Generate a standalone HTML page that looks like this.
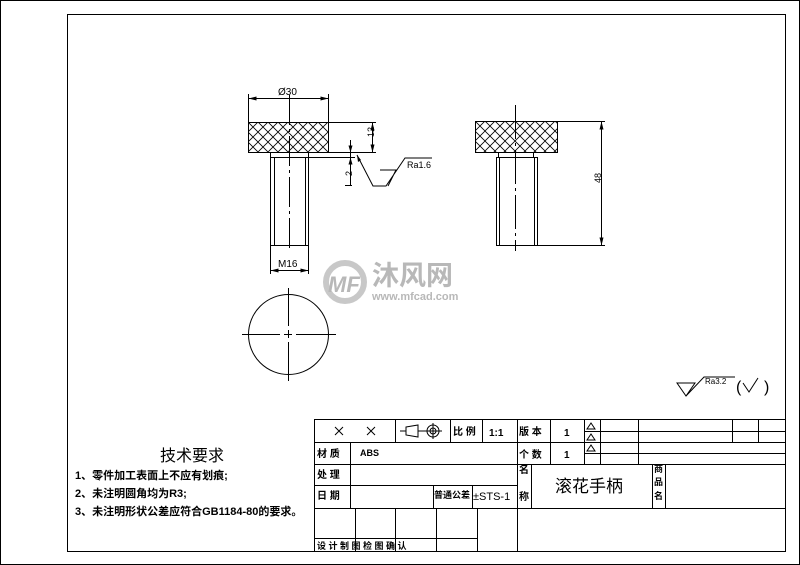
<!DOCTYPE html>
<html><head><meta charset="utf-8"><style>
html,body{margin:0;padding:0;background:#fff}
svg{display:block}
text{font-family:"Liberation Sans","Noto Sans CJK SC",sans-serif;fill:#000}
text.wm{fill:#b8b8b8}
</style></head><body>
<svg width="800" height="565" viewBox="0 0 800 565" xmlns="http://www.w3.org/2000/svg">
<defs>
<pattern id="kn" width="10" height="10" patternUnits="userSpaceOnUse" x="248" y="122">
<path d="M0 0L10 10M10 0L0 10" stroke="#000" stroke-width="0.8"/>
</pattern>
<pattern id="kn2" width="10" height="10" patternUnits="userSpaceOnUse" x="475" y="121">
<path d="M0 0L10 10M10 0L0 10" stroke="#000" stroke-width="0.8"/>
</pattern>
</defs>
<rect x="0.5" y="0.5" width="799" height="564" fill="none" stroke="#000"/>
<rect x="67.5" y="14.5" width="718" height="537" fill="none" stroke="#000"/>

<!-- watermark -->
<circle cx="345" cy="282" r="19" fill="none" stroke="#c8c8c8" stroke-width="6"/>
<text class="wm" x="328" y="292" font-size="22" font-weight="bold" font-style="italic">MF</text>
<text class="wm" x="372" y="285" font-size="27" font-weight="bold" style="font-family:'Noto Sans CJK SC',sans-serif">沐风网</text>
<text class="wm" x="372" y="300" font-size="11" font-weight="bold">www.mfcad.com</text>

<g stroke="#000" stroke-width="1" fill="none">
<rect x="248.5" y="122.5" width="80" height="30" fill="url(#kn)"/>
<path d="M270.5 152.5V157.5M308.5 152.5V157.5"/>
<rect x="270.5" y="157.5" width="38" height="88"/>
<path d="M274.5 157.5V245.5M305.5 157.5V245.5"/>
<path d="M289.5 95V250" stroke-dasharray="30,4,3,4"/>
<path d="M248.5 94V122M328.5 94V122M248.5 98.5H328.5"/>
<path d="M270.5 245V274M308.5 245V274M270.5 270.5H308.5"/>
<path d="M329 122.5H376M329 152.5H376M372.5 122.5V152.5"/>
<path d="M308 157.5H355M350.5 140V185M345 185.5H352"/>
<path d="M357 155L373 186H386L405 158H432M380 170H396L388 186"/>
<circle cx="288.5" cy="334.5" r="40"/>
<path d="M242 334.5H280M284 334.5H292M296 334.5H336M288.5 288V326M288.5 330V338M288.5 342V381"/>
<rect x="475.5" y="121.5" width="82" height="31" fill="url(#kn2)"/>
<path d="M498.5 152.5V157.5M533.5 152.5V157.5"/>
<rect x="496.5" y="157.5" width="41" height="88"/>
<path d="M499.5 157.5V245.5M534.5 157.5V245.5"/>
<path d="M515.5 105V251" stroke-dasharray="34,4,3,4"/>
<path d="M557 121.5H605M537 245.5H605M601.5 121.5V245.5"/>
<path d="M677 383H695L686 396ZM686 396L704 377H735"/>
<path d="M743 383L749 392L758 378"/>
</g>
<g fill="#000">
<path d="M248.5 98.5l8-2v4zM328.5 98.5l-8-2v4z"/>
<path d="M270.5 270.5l8-2v4zM308.5 270.5l-8-2v4z"/>
<path d="M372.5 122.5l-2 8h4zM372.5 152.5l-2-8h4z"/>
<path d="M350.5 152.5l-2-7h4zM350.5 157.5l-2 7h4z"/>
<path d="M357 155l1 7 3-2z"/>
<path d="M601.5 121.5l-2 8h4zM601.5 245.5l-2-8h4z"/>
</g>
<text x="278" y="95" font-size="10">Ø30</text>
<text x="278" y="267" font-size="10">M16</text>
<text x="368" y="143" font-size="9" transform="rotate(-90 368 137)">12</text>
<text x="348" y="180" font-size="9" transform="rotate(-90 348 176)">2</text>
<text x="407" y="168" font-size="9">Ra1.6</text>
<text x="597" y="187" font-size="9" transform="rotate(-90 597 183)">48</text>
<text x="705" y="384" font-size="8">Ra3.2</text>
<text x="736" y="392" font-size="16">(</text>
<text x="764" y="392" font-size="16">)</text>

<g font-family="Noto Sans CJK SC" font-weight="bold">
<text x="160" y="461" font-size="16" font-weight="normal">技术要求</text>
<text x="75" y="479" font-size="11">1、零件加工表面上不应有划痕;</text>
<text x="75" y="497" font-size="11">2、未注明圆角均为R3;</text>
<text x="75" y="515" font-size="11">3、未注明形状公差应符合GB1184-80的要求。</text>
</g>

<g stroke="#000" stroke-width="1" fill="none">
<rect x="314.5" y="419.5" width="471" height="132"/>
<path d="M314.5 442.5H600.5M314.5 464.5H785.5M314.5 485.5H517.5M314.5 508.5H785.5M314.5 538.5H477.5"/>
<path d="M584.5 431.5H785.5M584.5 453.5H785.5M600.5 442.5H785.5"/>
<path d="M395.5 419.5V442.5M450.5 419.5V442.5M482.5 419.5V442.5M517.5 419.5V551.5M550.5 419.5V464.5M584.5 419.5V464.5M600.5 419.5V464.5M638.5 419.5V464.5M732.5 419.5V442.5M758.5 419.5V442.5"/>
<path d="M350.5 442.5V508.5M433.5 485.5V508.5M472.5 485.5V508.5M531.5 464.5V508.5M652.5 464.5V508.5M665.5 464.5V508.5"/>
<path d="M355.5 508.5V551.5M395.5 508.5V551.5M436.5 508.5V551.5M477.5 508.5V551.5"/>
<path d="M335 427L343 435M343 427L335 435M367 427L375 435M375 427L367 435"/>
<path d="M400 431H406M406 427L418 425V437L406 435ZM418 431H442"/>
<circle cx="433" cy="431" r="6"/><circle cx="433" cy="431" r="3"/>
<path d="M433 423V439"/>
<path d="M587 429h8l-4-6zM587 440h8l-4-6zM587 451h8l-4-6z"/>
</g>
<g font-family="Noto Sans CJK SC" font-size="10" font-weight="bold">
<text x="453" y="435">比 例</text>
<text x="489" y="436" font-family="Liberation Sans">1:1</text>
<text x="519" y="435">版 本</text>
<text x="564" y="436" font-family="Liberation Sans">1</text>
<text x="519" y="458">个 数</text>
<text x="564" y="458" font-family="Liberation Sans">1</text>
<text x="317" y="457">材 质</text>
<text x="360" y="456" font-family="Liberation Sans" font-size="9">ABS</text>
<text x="317" y="478">处 理</text>
<text x="317" y="499">日 期</text>
<text x="434" y="498" font-size="9">普通公差</text>
<text x="473" y="500" font-family="Liberation Sans" font-weight="normal" font-size="11">±STS-1</text>
<text x="519" y="473">名</text>
<text x="519" y="500">称</text>
<text x="555" y="492" font-size="17" font-weight="normal">滚花手柄</text>
<text x="654" y="472" font-size="9">商</text>
<text x="654" y="485" font-size="9">品</text>
<text x="654" y="499" font-size="9">名</text>
<text x="317" y="549" font-size="9">设 计 制 图 检 图 确 认</text>
</g>
</svg>
</body></html>
